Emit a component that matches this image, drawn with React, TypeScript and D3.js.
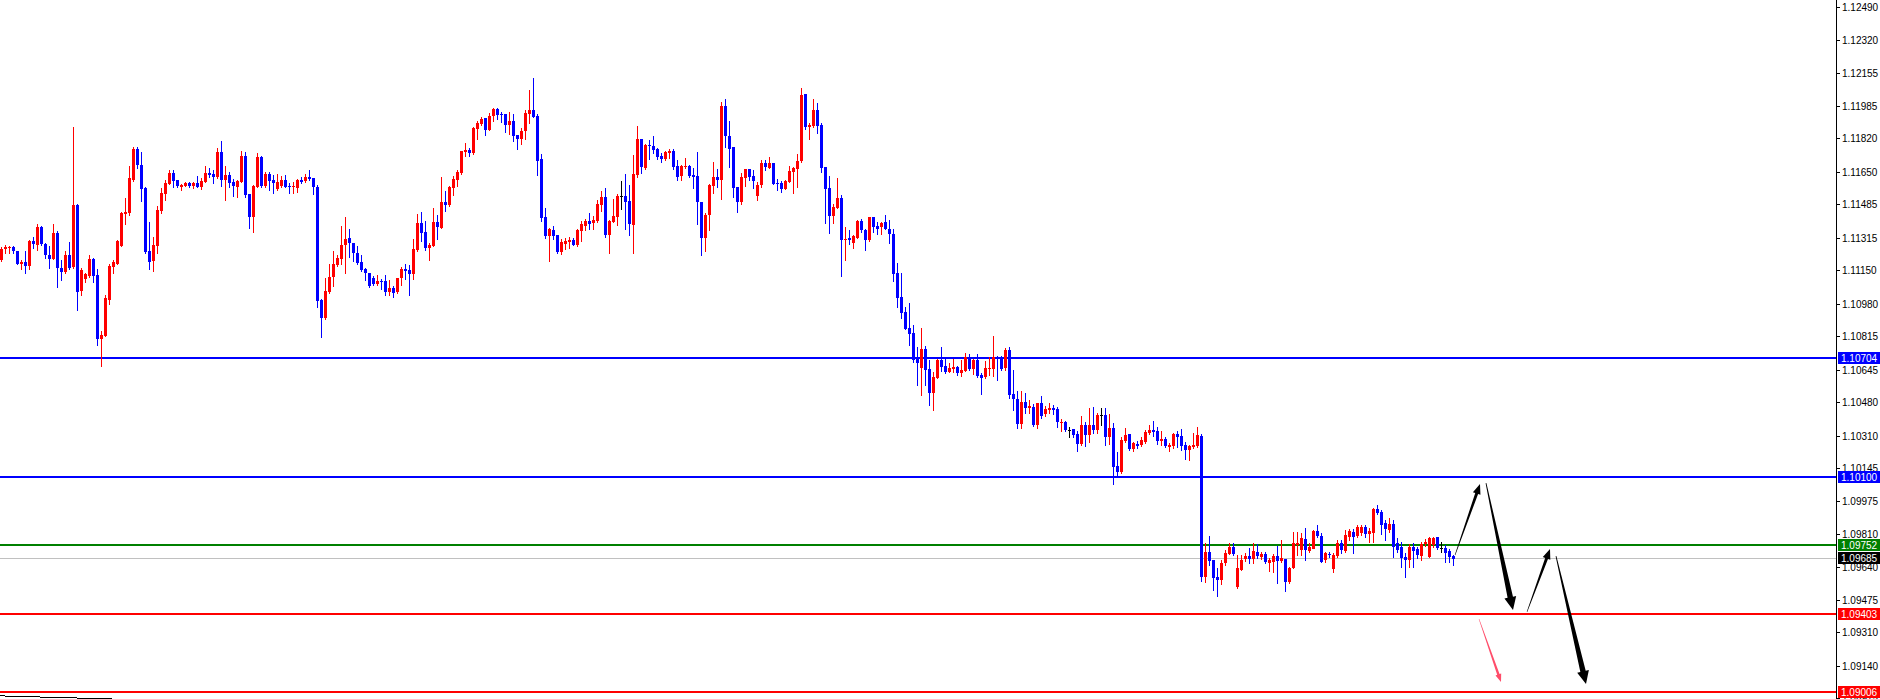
import React from "react"
import * as d3 from "d3"

// EURUSD-style candles (oldest first)
const opens = [
  1.11202, 1.11258, 1.11263, 1.11268, 1.11248, 1.11182, 1.11192, 1.11174, 1.11299, 1.11283,
  1.11372, 1.11284, 1.11230, 1.11210, 1.11340, 1.11164, 1.11144, 1.11228, 1.11169, 1.11482,
  1.11042, 1.11106, 1.11121, 1.11207, 1.11128, 1.10800, 1.10817, 1.10999, 1.11169, 1.11184,
  1.11276, 1.11437, 1.11442, 1.11610, 1.11767, 1.11687, 1.11569, 1.11248, 1.11197, 1.11273,
  1.11451, 1.11540, 1.11589, 1.11645, 1.11609, 1.11574, 1.11579, 1.11594, 1.11579, 1.11594,
  1.11574, 1.11599, 1.11645, 1.11640, 1.11625, 1.11752, 1.11609, 1.11635, 1.11599, 1.11575,
  1.11599, 1.11731, 1.11538, 1.11421, 1.11574, 1.11726, 1.11579, 1.11640, 1.11609, 1.11565,
  1.11579, 1.11609, 1.11579, 1.11574, 1.11569, 1.11609, 1.11604, 1.11625, 1.11620, 1.11574,
  1.10999, 1.10908, 1.11040, 1.11116, 1.11178, 1.11207, 1.11279, 1.11314, 1.11289, 1.11238,
  1.11192, 1.11157, 1.11137, 1.11111, 1.11081, 1.11096, 1.11096, 1.11040, 1.11061, 1.11040,
  1.11111, 1.11157, 1.11151, 1.11131, 1.11253, 1.11391, 1.11345, 1.11263, 1.11273, 1.11396,
  1.11365, 1.11497, 1.11482, 1.11569, 1.11609, 1.11645, 1.11752, 1.11762, 1.11747, 1.11869,
  1.11894, 1.11924, 1.11863, 1.11935, 1.11970, 1.11945, 1.11945, 1.11889, 1.11909, 1.11838,
  1.11818, 1.11858, 1.11945, 1.11965, 1.11935, 1.11716, 1.11421, 1.11324, 1.11355, 1.11330,
  1.11243, 1.11284, 1.11294, 1.11304, 1.11279, 1.11350, 1.11375, 1.11401, 1.11391, 1.11401,
  1.11482, 1.11523, 1.11330, 1.11396, 1.11421, 1.11528, 1.11528, 1.11503, 1.11381, 1.11635,
  1.11818, 1.11671, 1.11787, 1.11782, 1.11767, 1.11731, 1.11716, 1.11747, 1.11757, 1.11681,
  1.11630, 1.11676, 1.11681, 1.11635, 1.11630, 1.11497, 1.11314, 1.11431, 1.11579, 1.11625,
  1.11609, 1.11985, 1.11833, 1.11777, 1.11574, 1.11497, 1.11620, 1.11665, 1.11630, 1.11528,
  1.11584, 1.11696, 1.11671, 1.11696, 1.11594, 1.11594, 1.11564, 1.11599, 1.11650, 1.11665,
  1.11706, 1.12046, 1.11879, 1.11884, 1.11965, 1.11889, 1.11676, 1.11569, 1.11426, 1.11467,
  1.11518, 1.11304, 1.11314, 1.11289, 1.11314, 1.11401, 1.11355, 1.11304, 1.11421, 1.11375,
  1.11370, 1.11396, 1.11360, 1.11335, 1.11137, 1.11015, 1.10938, 1.10857, 1.10832, 1.10699,
  1.10653, 1.10750, 1.10648, 1.10526, 1.10602, 1.10694, 1.10663, 1.10633, 1.10648, 1.10658,
  1.10628, 1.10638, 1.10709, 1.10648, 1.10694, 1.10618, 1.10607, 1.10648, 1.10648, 1.10709,
  1.10704, 1.10653, 1.10745, 1.10521, 1.10496, 1.10369, 1.10481, 1.10450, 1.10457, 1.10364,
  1.10474, 1.10416, 1.10436, 1.10448, 1.10443, 1.10375, 1.10380, 1.10338, 1.10341, 1.10316,
  1.10267, 1.10364, 1.10313, 1.10364, 1.10338, 1.10415, 1.10415, 1.10304, 1.10350, 1.10155,
  1.10126, 1.10284, 1.10318, 1.10241, 1.10267, 1.10262, 1.10279, 1.10325, 1.10338, 1.10333,
  1.10282, 1.10291, 1.10253, 1.10257, 1.10318, 1.10308, 1.10262, 1.10236, 1.10253, 1.10257,
  1.10308, 1.09592, 1.09719, 1.09677, 1.09589, 1.09575, 1.09663, 1.09711, 1.09745, 1.09540,
  1.09628, 1.09679, 1.09696, 1.09682, 1.09718, 1.09696, 1.09710, 1.09666, 1.09666, 1.09699,
  1.09672, 1.09682, 1.09567, 1.09637, 1.09753, 1.09728, 1.09782, 1.09724, 1.09737, 1.09826,
  1.09799, 1.09674, 1.09706, 1.09633, 1.09698, 1.09762, 1.09724, 1.09796, 1.09821, 1.09796,
  1.09813, 1.09843, 1.09813, 1.09813, 1.09937, 1.09923, 1.09864, 1.09830, 1.09860, 1.09762,
  1.09745, 1.09694, 1.09681, 1.09745, 1.09731, 1.09698, 1.09762, 1.09691, 1.09753, 1.09794,
  1.09737, 1.09740, 1.09724, 1.09698,
]

const highs = [
  1.11268, 1.11278, 1.11273, 1.11273, 1.11250, 1.11202, 1.11248, 1.11304, 1.11321, 1.11386,
  1.11377, 1.11290, 1.11273, 1.11386, 1.11350, 1.11202, 1.11248, 1.11294, 1.11880, 1.11487,
  1.11164, 1.11138, 1.11228, 1.11210, 1.11156, 1.10842, 1.11025, 1.11183, 1.11202, 1.11304,
  1.11447, 1.11517, 1.11681, 1.11777, 1.11777, 1.11752, 1.11574, 1.11396, 1.11320, 1.11477,
  1.11569, 1.11608, 1.11660, 1.11660, 1.11609, 1.11589, 1.11599, 1.11599, 1.11599, 1.11630,
  1.11620, 1.11681, 1.11671, 1.11660, 1.11772, 1.11806, 1.11681, 1.11650, 1.11616, 1.11609,
  1.11757, 1.11752, 1.11538, 1.11584, 1.11747, 1.11731, 1.11650, 1.11650, 1.11635, 1.11640,
  1.11630, 1.11635, 1.11594, 1.11599, 1.11612, 1.11626, 1.11640, 1.11660, 1.11620, 1.11584,
  1.11004, 1.11111, 1.11183, 1.11248, 1.11228, 1.11375, 1.11421, 1.11360, 1.11289, 1.11273,
  1.11228, 1.11164, 1.11137, 1.11121, 1.11126, 1.11106, 1.11126, 1.11101, 1.11071, 1.11111,
  1.11169, 1.11183, 1.11178, 1.11309, 1.11436, 1.11446, 1.11401, 1.11289, 1.11467, 1.11431,
  1.11624, 1.11553, 1.11579, 1.11630, 1.11660, 1.11757, 1.11797, 1.11772, 1.11879, 1.11909,
  1.11930, 1.11924, 1.11950, 1.11975, 1.11975, 1.11955, 1.11945, 1.11955, 1.11945, 1.11838,
  1.11874, 1.11965, 1.12066, 1.12128, 1.11945, 1.11741, 1.11467, 1.11365, 1.11375, 1.11330,
  1.11309, 1.11314, 1.11320, 1.11314, 1.11360, 1.11401, 1.11411, 1.11441, 1.11426, 1.11507,
  1.11553, 1.11569, 1.11406, 1.11512, 1.11538, 1.11604, 1.11640, 1.11584, 1.11736, 1.11884,
  1.11818, 1.11792, 1.11812, 1.11833, 1.11772, 1.11747, 1.11757, 1.11767, 1.11767, 1.11711,
  1.11686, 1.11721, 1.11686, 1.11671, 1.11752, 1.11497, 1.11441, 1.11589, 1.11701, 1.11665,
  1.12006, 1.12021, 1.11909, 1.11777, 1.11574, 1.11645, 1.11665, 1.11665, 1.11660, 1.11599,
  1.11711, 1.11711, 1.11726, 1.11696, 1.11615, 1.11604, 1.11609, 1.11681, 1.11676, 1.11741,
  1.12077, 1.12046, 1.11899, 1.12021, 1.12001, 1.11899, 1.11676, 1.11630, 1.11487, 1.11620,
  1.11533, 1.11371, 1.11355, 1.11330, 1.11406, 1.11411, 1.11360, 1.11421, 1.11421, 1.11396,
  1.11396, 1.11431, 1.11406, 1.11360, 1.11187, 1.11137, 1.10964, 1.10984, 1.10872, 1.10760,
  1.10857, 1.10765, 1.10694, 1.10633, 1.10699, 1.10760, 1.10709, 1.10679, 1.10699, 1.10663,
  1.10694, 1.10730, 1.10724, 1.10699, 1.10724, 1.10628, 1.10689, 1.10709, 1.10816, 1.10714,
  1.10714, 1.10755, 1.10760, 1.10643, 1.10536, 1.10536, 1.10526, 1.10490, 1.10470, 1.10477,
  1.10511, 1.10460, 1.10474, 1.10465, 1.10457, 1.10392, 1.10385, 1.10352, 1.10341, 1.10333,
  1.10409, 1.10380, 1.10450, 1.10457, 1.10426, 1.10450, 1.10450, 1.10418, 1.10375, 1.10228,
  1.10301, 1.10347, 1.10318, 1.10279, 1.10284, 1.10304, 1.10338, 1.10362, 1.10385, 1.10355,
  1.10333, 1.10304, 1.10270, 1.10325, 1.10333, 1.10343, 1.10279, 1.10262, 1.10325, 1.10352,
  1.10318, 1.09764, 1.09801, 1.09677, 1.09636, 1.09677, 1.09728, 1.09765, 1.09765, 1.09703,
  1.09703, 1.09713, 1.09738, 1.09765, 1.09759, 1.09716, 1.09716, 1.09688, 1.09709, 1.09748,
  1.09779, 1.09682, 1.09643, 1.09818, 1.09821, 1.09813, 1.09838, 1.09762, 1.09830, 1.09855,
  1.09813, 1.09719, 1.09719, 1.09713, 1.09779, 1.09779, 1.09830, 1.09833, 1.09833, 1.09855,
  1.09855, 1.09855, 1.09838, 1.09940, 1.09957, 1.09931, 1.09880, 1.09889, 1.09880, 1.09787,
  1.09770, 1.09711, 1.09759, 1.09762, 1.09745, 1.09769, 1.09784, 1.09796, 1.09796, 1.09796,
  1.09770, 1.09754, 1.09731, 1.09703,
]

const lows = [
  1.11197, 1.11238, 1.11238, 1.11238, 1.11180, 1.11159, 1.11136, 1.11159, 1.11265, 1.11253,
  1.11279, 1.11212, 1.11164, 1.11205, 1.11067, 1.11101, 1.11136, 1.11159, 1.11164, 1.10948,
  1.11024, 1.11092, 1.11118, 1.11092, 1.10771, 1.10665, 1.10814, 1.10979, 1.11135, 1.11180,
  1.11271, 1.11386, 1.11433, 1.11605, 1.11671, 1.11504, 1.11240, 1.11159, 1.11148, 1.11240,
  1.11440, 1.11507, 1.11589, 1.11575, 1.11572, 1.11560, 1.11579, 1.11572, 1.11567, 1.11572,
  1.11562, 1.11599, 1.11626, 1.11595, 1.11620, 1.11579, 1.11507, 1.11572, 1.11529, 1.11524,
  1.11599, 1.11523, 1.11365, 1.11345, 1.11574, 1.11572, 1.11574, 1.11558, 1.11543, 1.11558,
  1.11574, 1.11572, 1.11545, 1.11545, 1.11548, 1.11593, 1.11599, 1.11609, 1.11538, 1.10961,
  1.10812, 1.10903, 1.11035, 1.11071, 1.11172, 1.11183, 1.11138, 1.11220, 1.11199, 1.11183,
  1.11146, 1.11101, 1.11066, 1.11076, 1.11076, 1.11055, 1.11025, 1.11025, 1.11015, 1.11035,
  1.11076, 1.11106, 1.11025, 1.11106, 1.11248, 1.11299, 1.11253, 1.11202, 1.11273, 1.11309,
  1.11365, 1.11451, 1.11477, 1.11533, 1.11579, 1.11640, 1.11731, 1.11731, 1.11742, 1.11818,
  1.11889, 1.11838, 1.11863, 1.11909, 1.11919, 1.11904, 1.11853, 1.11843, 1.11808, 1.11767,
  1.11792, 1.11818, 1.11899, 1.11930, 1.11635, 1.11401, 1.11314, 1.11197, 1.11309, 1.11238,
  1.11233, 1.11258, 1.11263, 1.11279, 1.11273, 1.11299, 1.11355, 1.11360, 1.11360, 1.11396,
  1.11451, 1.11320, 1.11238, 1.11396, 1.11380, 1.11462, 1.11360, 1.11330, 1.11238, 1.11625,
  1.11645, 1.11665, 1.11716, 1.11747, 1.11716, 1.11701, 1.11711, 1.11721, 1.11665, 1.11609,
  1.11609, 1.11671, 1.11625, 1.11569, 1.11386, 1.11228, 1.11248, 1.11355, 1.11543, 1.11574,
  1.11512, 1.11777, 1.11676, 1.11523, 1.11446, 1.11487, 1.11579, 1.11609, 1.11569, 1.11507,
  1.11574, 1.11660, 1.11671, 1.11589, 1.11558, 1.11548, 1.11564, 1.11599, 1.11543, 1.11574,
  1.11701, 1.11869, 1.11818, 1.11879, 1.11848, 1.11650, 1.11391, 1.11340, 1.11391, 1.11467,
  1.11121, 1.11202, 1.11284, 1.11263, 1.11314, 1.11345, 1.11253, 1.11299, 1.11345, 1.11335,
  1.11335, 1.11360, 1.11289, 1.11096, 1.10964, 1.10908, 1.10852, 1.10771, 1.10684, 1.10567,
  1.10516, 1.10567, 1.10465, 1.10440, 1.10602, 1.10638, 1.10628, 1.10633, 1.10633, 1.10618,
  1.10612, 1.10638, 1.10643, 1.10623, 1.10607, 1.10521, 1.10602, 1.10618, 1.10612, 1.10592,
  1.10643, 1.10643, 1.10501, 1.10440, 1.10348, 1.10348, 1.10425, 1.10425, 1.10358, 1.10350,
  1.10401, 1.10411, 1.10426, 1.10421, 1.10355, 1.10333, 1.10333, 1.10304, 1.10304, 1.10231,
  1.10262, 1.10259, 1.10279, 1.10321, 1.10321, 1.10364, 1.10262, 1.10267, 1.10064, 1.10104,
  1.10121, 1.10279, 1.10236, 1.10233, 1.10245, 1.10257, 1.10274, 1.10316, 1.10308, 1.10267,
  1.10262, 1.10250, 1.10233, 1.10245, 1.10253, 1.10236, 1.10191, 1.10183, 1.10245, 1.10253,
  1.09572, 1.09567, 1.09652, 1.09525, 1.09496, 1.09555, 1.09652, 1.09706, 1.09703, 1.09535,
  1.09625, 1.09671, 1.09662, 1.09662, 1.09688, 1.09682, 1.09662, 1.09621, 1.09618, 1.09562,
  1.09669, 1.09521, 1.09562, 1.09637, 1.09703, 1.09703, 1.09677, 1.09719, 1.09737, 1.09796,
  1.09669, 1.09669, 1.09691, 1.09618, 1.09694, 1.09711, 1.09719, 1.09779, 1.09711, 1.09794,
  1.09804, 1.09796, 1.09770, 1.09770, 1.09913, 1.09809, 1.09779, 1.09821, 1.09694, 1.09719,
  1.09643, 1.09592, 1.09643, 1.09643, 1.09688, 1.09677, 1.09748, 1.09691, 1.09745, 1.09731,
  1.09719, 1.09669, 1.09669, 1.09652,
]

const closes = [
  1.11258, 1.11268, 1.11268, 1.11248, 1.11182, 1.11192, 1.11174, 1.11299, 1.11283, 1.11372,
  1.11284, 1.11230, 1.11210, 1.11340, 1.11164, 1.11144, 1.11228, 1.11164, 1.11482, 1.11042,
  1.11151, 1.11131, 1.11207, 1.11123, 1.10804, 1.10822, 1.11010, 1.11174, 1.11192, 1.11299,
  1.11442, 1.11447, 1.11620, 1.11767, 1.11687, 1.11564, 1.11243, 1.11194, 1.11279, 1.11456,
  1.11543, 1.11594, 1.11645, 1.11606, 1.11579, 1.11584, 1.11594, 1.11579, 1.11594, 1.11574,
  1.11604, 1.11645, 1.11635, 1.11626, 1.11752, 1.11609, 1.11635, 1.11595, 1.11579, 1.11604,
  1.11731, 1.11533, 1.11421, 1.11579, 1.11726, 1.11579, 1.11640, 1.11604, 1.11594, 1.11599,
  1.11609, 1.11575, 1.11574, 1.11579, 1.11609, 1.11599, 1.11625, 1.11615, 1.11575, 1.10994,
  1.10908, 1.11045, 1.11116, 1.11183, 1.11213, 1.11279, 1.11309, 1.11289, 1.11236, 1.11187,
  1.11151, 1.11135, 1.11071, 1.11081, 1.11096, 1.11093, 1.11040, 1.11061, 1.11035, 1.11111,
  1.11157, 1.11146, 1.11131, 1.11258, 1.11391, 1.11340, 1.11263, 1.11279, 1.11396, 1.11370,
  1.11497, 1.11482, 1.11574, 1.11615, 1.11650, 1.11757, 1.11762, 1.11747, 1.11874, 1.11899,
  1.11919, 1.11863, 1.11935, 1.11970, 1.11940, 1.11940, 1.11889, 1.11909, 1.11833, 1.11818,
  1.11858, 1.11950, 1.11965, 1.11930, 1.11706, 1.11416, 1.11324, 1.11360, 1.11324, 1.11243,
  1.11294, 1.11299, 1.11304, 1.11279, 1.11355, 1.11386, 1.11401, 1.11386, 1.11406, 1.11487,
  1.11523, 1.11330, 1.11401, 1.11426, 1.11528, 1.11528, 1.11497, 1.11386, 1.11640, 1.11818,
  1.11676, 1.11787, 1.11782, 1.11762, 1.11726, 1.11716, 1.11752, 1.11757, 1.11676, 1.11625,
  1.11681, 1.11681, 1.11630, 1.11625, 1.11497, 1.11314, 1.11431, 1.11584, 1.11625, 1.11609,
  1.11985, 1.11833, 1.11767, 1.11569, 1.11497, 1.11625, 1.11665, 1.11625, 1.11604, 1.11584,
  1.11696, 1.11676, 1.11696, 1.11589, 1.11589, 1.11564, 1.11604, 1.11655, 1.11671, 1.11706,
  1.12041, 1.11879, 1.11889, 1.11965, 1.11884, 1.11671, 1.11564, 1.11426, 1.11472, 1.11518,
  1.11304, 1.11309, 1.11304, 1.11325, 1.11401, 1.11355, 1.11304, 1.11421, 1.11370, 1.11360,
  1.11391, 1.11360, 1.11335, 1.11131, 1.11010, 1.10933, 1.10852, 1.10826, 1.10694, 1.10679,
  1.10750, 1.10643, 1.10526, 1.10607, 1.10694, 1.10658, 1.10633, 1.10653, 1.10658, 1.10628,
  1.10643, 1.10709, 1.10648, 1.10694, 1.10612, 1.10602, 1.10653, 1.10653, 1.10709, 1.10704,
  1.10648, 1.10745, 1.10516, 1.10496, 1.10369, 1.10481, 1.10450, 1.10460, 1.10364, 1.10474,
  1.10406, 1.10443, 1.10448, 1.10440, 1.10375, 1.10380, 1.10338, 1.10338, 1.10313, 1.10267,
  1.10364, 1.10313, 1.10364, 1.10338, 1.10415, 1.10415, 1.10304, 1.10350, 1.10152, 1.10126,
  1.10287, 1.10313, 1.10241, 1.10270, 1.10257, 1.10287, 1.10330, 1.10338, 1.10328, 1.10282,
  1.10292, 1.10253, 1.10262, 1.10318, 1.10304, 1.10259, 1.10236, 1.10257, 1.10262, 1.10313,
  1.09592, 1.09719, 1.09674, 1.09584, 1.09575, 1.09663, 1.09714, 1.09745, 1.09708, 1.09637,
  1.09679, 1.09696, 1.09679, 1.09721, 1.09696, 1.09710, 1.09668, 1.09679, 1.09699, 1.09674,
  1.09686, 1.09567, 1.09637, 1.09762, 1.09762, 1.09787, 1.09728, 1.09745, 1.09826, 1.09799,
  1.09669, 1.09711, 1.09703, 1.09703, 1.09762, 1.09724, 1.09804, 1.09826, 1.09796, 1.09843,
  1.09843, 1.09809, 1.09826, 1.09937, 1.09918, 1.09855, 1.09833, 1.09860, 1.09742, 1.09728,
  1.09691, 1.09681, 1.09745, 1.09724, 1.09703, 1.09757, 1.09770, 1.09789, 1.09791, 1.09737,
  1.09737, 1.09714, 1.09691, 1.09685,
]

// right price scale
const tickLabels = [
  "1.12490", "1.12320", "1.12155", "1.11985", "1.11820", "1.11650", "1.11485", "1.11315",
  "1.11150", "1.10980", "1.10815", "1.10645", "1.10480", "1.10310", "1.10145", "1.09975",
  "1.09810", "1.09640", "1.09475", "1.09310", "1.09140", "1.08975",
]

// horizontal levels
const levelPrices = [1.10704, 1.10100, 1.09752, 1.09685, 1.09403, 1.09006]
const levelColors = ["#0000ff", "#0000ff", "#008000", "#c0c0c0", "#ff0000", "#ff0000"]
const levelLabelBg = ["#0000ff", "#0000ff", "#008000", "#000000", "#ff0000", "#ff0000"]

// projected path arrows: [barFrom, priceFrom, barTo, priceTo]
const arrowSegments = [
  [363.5, 1.09702, 369.75, 1.10063],
  [371.25, 1.10068, 378.0, 1.09423],
  [381.5, 1.09413, 387.25, 1.09733],
  [388.75, 1.09697, 396.25, 1.09047],
]
const pinkArrow = [369.5, 1.09377, 375.0, 1.09057]

const W = 1880
const H = 699
const AXIS_X = 1836

function arrowPath(x1: number, y1: number, x2: number, y2: number, w0: number, w1: number, L: number, hw: number) {
  const dx = x2 - x1
  const dy = y2 - y1
  const len = Math.sqrt(dx * dx + dy * dy)
  const ux = dx / len, uy = dy / len
  const nx = -uy, ny = ux
  const bx = x2 - ux * L, by = y2 - uy * L
  const pts = [
    [x1 + nx * w0 / 2, y1 + ny * w0 / 2],
    [bx + nx * w1 / 2, by + ny * w1 / 2],
    [bx + nx * hw / 2, by + ny * hw / 2],
    [x2, y2],
    [bx - nx * hw / 2, by - ny * hw / 2],
    [bx - nx * w1 / 2, by - ny * w1 / 2],
    [x1 - nx * w0 / 2, y1 - ny * w0 / 2],
  ]
  return "M" + pts.map((p) => p[0].toFixed(2) + "," + p[1].toFixed(2)).join("L") + "Z"
}

export default function App() {
  const n = closes.length
  const x = d3.scaleLinear().domain([0, n - 1]).range([1, 1 + 4 * (n - 1)])
  const y = d3.scaleLinear().domain([1.09006, 1.10704]).range([692, 358])

  const candles = d3.range(n).map((i) => {
    const o = opens[i], c = closes[i]
    const color = c > o ? "#ff0000" : c < o ? "#0000ff" : "#000000"
    const cx = Math.round(x(i))
    const yo = y(o), yc = y(c)
    const top = Math.round(Math.min(yo, yc))
    const h = Math.max(1, Math.round(Math.abs(yo - yc)))
    const yh = Math.round(y(highs[i]))
    const yl = Math.round(y(lows[i]))
    return (
      <g key={i} fill={color}>
        <rect x={cx} y={yh} width={1} height={Math.max(1, yl - yh + 1)} />
        <rect x={cx - 1} y={top} width={3} height={h} />
      </g>
    )
  })

  const font = "'Liberation Sans', Arial, sans-serif"

  return (
    <div style={{ position: "absolute", left: 0, top: 0 }}>
      <svg width={W} height={H} viewBox={`0 0 ${W} ${H}`} style={{ display: "block", background: "#fff" }}>
        <rect x={0} y={0} width={W} height={H} fill="#ffffff" />

        {/* level lines */}
        {levelPrices.map((p, i) => {
          const yy = Math.round(y(p))
          const thick = levelColors[i] === "#c0c0c0" ? 1 : 2
          return (
            <rect key={"lv" + i} x={0} y={yy - (thick === 2 ? 1 : 0)} width={AXIS_X} height={thick}
              fill={levelColors[i]} shapeRendering="crispEdges" />
          )
        })}

        <g shapeRendering="crispEdges">{candles}</g>

        {/* arrows */}
        {arrowSegments.map((a, i) => {
          const thick = i % 2 === 1
          return (
            <path key={"ar" + i}
              d={arrowPath(x(a[0]), y(a[1]), x(a[2]), y(a[3]),
                thick ? 0.8 : 0.5, thick ? 5.5 : 3, thick ? 13 : 10, thick ? 12 : 8)}
              fill="#000000" />
          )
        })}
        <path d={arrowPath(x(pinkArrow[0]), y(pinkArrow[1]), x(pinkArrow[2]), y(pinkArrow[3]), 0.5, 2.5, 8, 6)}
          fill="#ff4d6a" />

        {/* bottom-left separator stub */}
        <g stroke="#000" strokeWidth={1} shapeRendering="crispEdges">
          <line x1={0} y1={695.5} x2={5} y2={695.5} />
          <line x1={5} y1={696.5} x2={40} y2={696.5} />
          <line x1={40} y1={697.5} x2={77} y2={697.5} />
          <line x1={77} y1={698.5} x2={112} y2={698.5} />
        </g>

        {/* price axis */}
        <rect x={AXIS_X} y={0} width={1} height={H} fill="#000" shapeRendering="crispEdges" />
        {tickLabels.map((t) => {
          const yy = Math.round(y(+t))
          return (
            <g key={t}>
              <rect x={AXIS_X + 1} y={yy} width={3} height={1} fill="#000" shapeRendering="crispEdges" />
              <text x={AXIS_X + 6} y={yy} dy="0.35em" fontFamily={font} fontSize={10} fill="#000">{t}</text>
            </g>
          )
        })}
        {levelPrices.map((p, i) => {
          const yy = Math.round(y(p))
          return (
            <g key={"lb" + i}>
              <rect x={AXIS_X + 2} y={yy - 6} width={W - AXIS_X - 2} height={12} fill={levelLabelBg[i]}
                shapeRendering="crispEdges" />
              <text x={AXIS_X + 5} y={yy} dy="0.35em" fontFamily={font} fontSize={10} fill="#fff">
                {p.toFixed(5)}
              </text>
            </g>
          )
        })}
      </svg>
    </div>
  )
}
